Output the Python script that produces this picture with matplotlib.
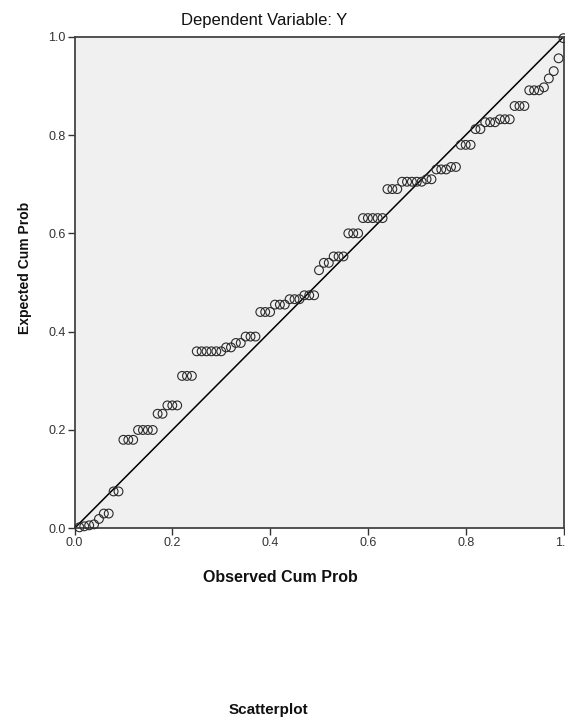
import matplotlib
matplotlib.use("Agg")
import matplotlib.pyplot as plt

plt.rcParams['font.family'] = ['Liberation Sans', 'DejaVu Sans']

# Observed cumulative probabilities (x) and expected cumulative probabilities (y)
observed = [0.01, 0.02, 0.03, 0.04, 0.05, 0.06, 0.07, 0.08, 0.09, 0.10,
            0.11, 0.12, 0.13, 0.14, 0.15, 0.16, 0.17, 0.18, 0.19, 0.20,
            0.21, 0.22, 0.23, 0.24, 0.25, 0.26, 0.27, 0.28, 0.29, 0.30,
            0.31, 0.32, 0.33, 0.34, 0.35, 0.36, 0.37, 0.38, 0.39, 0.40,
            0.41, 0.42, 0.43, 0.44, 0.45, 0.46, 0.47, 0.48, 0.49, 0.50,
            0.51, 0.52, 0.53, 0.54, 0.55, 0.56, 0.57, 0.58, 0.59, 0.60,
            0.61, 0.62, 0.63, 0.64, 0.65, 0.66, 0.67, 0.68, 0.69, 0.70,
            0.71, 0.72, 0.73, 0.74, 0.75, 0.76, 0.77, 0.78, 0.79, 0.80,
            0.81, 0.82, 0.83, 0.84, 0.85, 0.86, 0.87, 0.88, 0.89, 0.90,
            0.91, 0.92, 0.93, 0.94, 0.95, 0.96, 0.97, 0.98, 0.99, 1.00]

expected = [0.002, 0.004, 0.006, 0.008, 0.019, 0.030, 0.030, 0.075, 0.075, 0.180,
            0.180, 0.180, 0.200, 0.200, 0.200, 0.200, 0.233, 0.233, 0.250, 0.250,
            0.250, 0.310, 0.310, 0.310, 0.360, 0.360, 0.360, 0.360, 0.360, 0.360,
            0.368, 0.368, 0.377, 0.377, 0.390, 0.390, 0.390, 0.440, 0.440, 0.440,
            0.455, 0.455, 0.455, 0.466, 0.466, 0.466, 0.474, 0.474, 0.474, 0.525,
            0.540, 0.540, 0.553, 0.553, 0.553, 0.600, 0.600, 0.600, 0.631, 0.631,
            0.631, 0.631, 0.631, 0.690, 0.690, 0.690, 0.705, 0.705, 0.705, 0.705,
            0.705, 0.710, 0.710, 0.730, 0.730, 0.730, 0.735, 0.735, 0.780, 0.780,
            0.780, 0.812, 0.812, 0.826, 0.826, 0.826, 0.832, 0.832, 0.832, 0.859,
            0.859, 0.859, 0.891, 0.891, 0.891, 0.897, 0.915, 0.930, 0.956, 0.997]

ticks = [0.0, 0.2, 0.4, 0.6, 0.8, 1.0]
tick_labels = ["0.0", "0.2", "0.4", "0.6", "0.8", "1.0"]

W, H = 565, 724
fig = plt.figure(figsize=(W / 100, H / 100), dpi=100)
fig.patch.set_facecolor("white")

left, right, top, bottom = 74.5, 563.5, 36.7, 528.3
ax = fig.add_axes([left / W, (H - bottom) / H, (right - left) / W, (bottom - top) / H])
ax.set_facecolor("#f0f0f0")

ax.plot([0, 1], [0, 1], color="black", lw=1.1, zorder=2)
ax.scatter(observed, expected, s=40, facecolors="none", edgecolors="#2a2a2a",
           linewidths=0.8, zorder=3, clip_on=False)

ax.set_xlim(0, 1)
ax.set_ylim(0, 1)
ax.set_xticks(ticks)
ax.set_xticklabels(tick_labels)
ax.set_yticks(ticks)
ax.set_yticklabels(tick_labels)
ax.tick_params(direction="out", length=5, width=1.0, colors="#333333",
               labelsize=9, pad=1.5)
for side in ["top", "right", "left", "bottom"]:
    ax.spines[side].set_color("#444444")
    ax.spines[side].set_linewidth(1.3)

fig.text(264 / W, 1 - 20 / H, "Dependent Variable: Y", ha="center", va="center",
         fontsize=12, color="#111111")
fig.text(280 / W, 1 - 577 / H, "Observed Cum Prob", ha="center", va="center",
         fontsize=11.5, fontweight="bold", color="#111111")
fig.text(25 / W, 1 - 268 / H, "Expected Cum Prob", ha="center", va="center",
         fontsize=10, fontweight="bold", rotation=90, color="#111111")
fig.text(268 / W, 1 - 710 / H, "Scatterplot", ha="center", va="center",
         fontsize=11, fontweight="bold", color="#111111")

fig.savefig("out.png", dpi=100)
